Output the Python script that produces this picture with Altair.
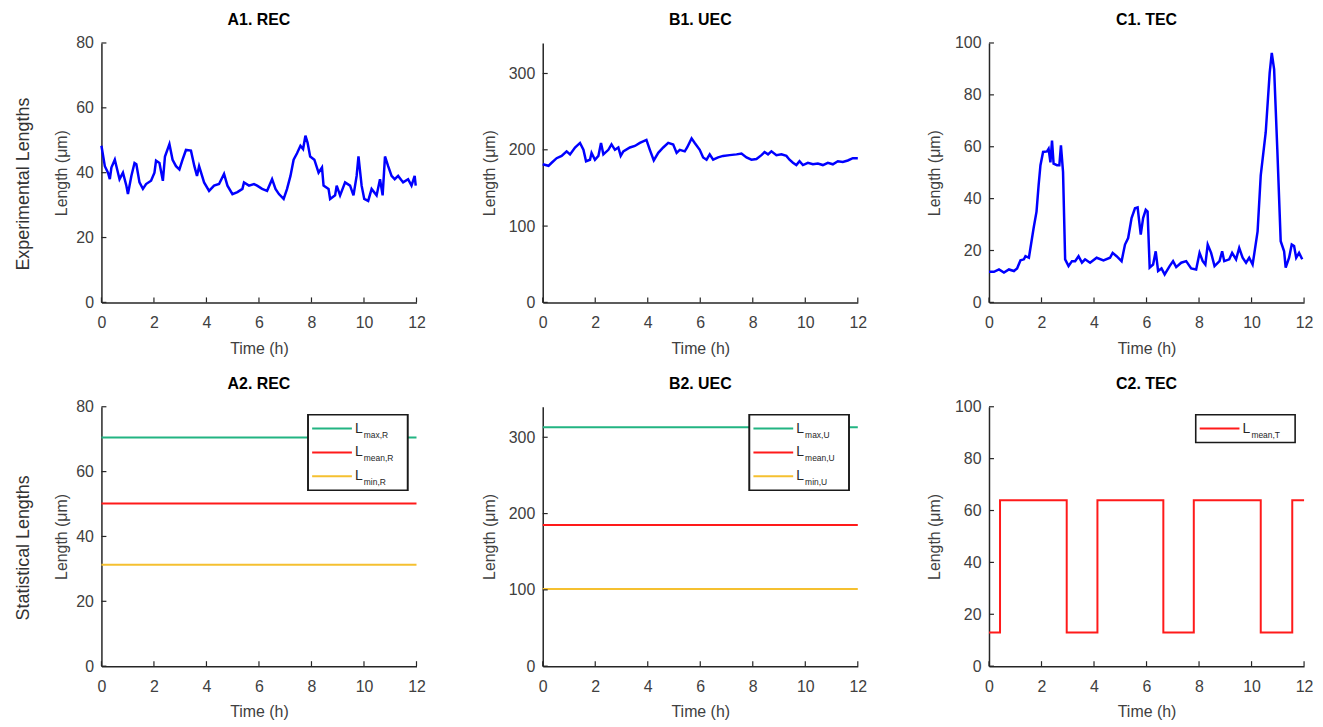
import altair as alt
import pandas as pd

# ---------------- data ----------------
rec_t = [0.0, 0.13, 0.25, 0.32, 0.38, 0.51, 0.57, 0.69, 0.82, 0.95, 1.01, 1.14, 1.26, 1.33, 1.45, 1.58, 1.70, 1.89,
         2.02, 2.08, 2.21, 2.34, 2.42, 2.59, 2.71, 2.84, 2.97, 3.09, 3.22, 3.41, 3.54, 3.64, 3.72, 3.91, 4.10, 4.29,
         4.48, 4.67, 4.80, 4.99, 5.18, 5.37, 5.43, 5.62, 5.81, 5.93, 6.12, 6.31, 6.50, 6.63, 6.76, 6.94, 7.07, 7.20,
         7.32, 7.45, 7.58, 7.68, 7.77, 7.85, 7.95, 8.11, 8.27, 8.40, 8.46, 8.65, 8.71, 8.90, 8.96, 9.09, 9.28, 9.47,
         9.60, 9.72, 9.79, 9.91, 10.01, 10.16, 10.29, 10.48, 10.61, 10.71, 10.80, 10.92, 11.05, 11.17, 11.30, 11.49,
         11.68, 11.81, 11.93, 11.97]
rec_L = [48.3, 42, 40, 38, 41.6, 44, 42, 38, 40, 36, 33.4, 39, 43, 42.6, 37, 35, 36.5, 37.5,
         40, 43.7, 43, 37.5, 45, 48.8, 44, 42, 41, 44, 47, 46.8, 42, 39, 42, 37, 34.4, 36,
         36.5, 39.6, 36, 33.4, 34, 35, 37, 36, 36.5, 36, 35, 34.4, 38, 35, 33.4, 31.9, 35, 39,
         44, 46, 48.3, 47.3, 51.4, 49.3, 45, 44, 40, 41.6, 36, 35, 31.9, 33, 36, 33, 37, 36,
         33, 39, 45, 36, 31.9, 31.3, 35, 33, 38, 33, 45, 42, 39, 38, 39, 37,
         38, 36, 39, 36]

uec_t = [0.0, 0.22, 0.34, 0.53, 0.72, 0.91, 1.04, 1.23, 1.42, 1.55, 1.65, 1.80, 1.86, 1.99, 2.12, 2.22, 2.31, 2.50,
         2.62, 2.75, 2.88, 2.97, 3.07, 3.32, 3.51, 3.70, 3.95, 4.08, 4.23, 4.40, 4.59, 4.78, 4.97, 5.10, 5.22, 5.41,
         5.50, 5.67, 5.79, 5.98, 6.11, 6.24, 6.36, 6.49, 6.68, 6.87, 7.12, 7.38, 7.57, 7.76, 7.95, 8.14, 8.33, 8.45,
         8.58, 8.71, 8.90, 9.09, 9.28, 9.40, 9.53, 9.66, 9.78, 9.91, 10.10, 10.29, 10.48, 10.67, 10.86, 11.05, 11.24,
         11.43, 11.62, 11.81, 12.0]
uec_L = [181, 179, 183, 189, 192, 198, 194, 203, 209, 200, 185, 187, 196, 187, 192, 209, 194, 200,
         207, 200, 203, 192, 198, 203, 205, 209, 213, 200, 186, 196, 203, 209, 207, 196, 200, 198,
         203, 215, 209, 200, 190, 187, 194, 187, 190, 192, 193, 194, 195, 190, 187, 188, 193, 197,
         194, 198, 193, 194, 192, 187, 183, 180, 185, 180, 183, 181, 182, 180, 183, 181, 185,
         184, 186, 189, 189]

tec_t = [0.0, 0.19, 0.38, 0.57, 0.76, 0.95, 1.07, 1.20, 1.33, 1.39, 1.52, 1.60, 1.70, 1.81, 1.89, 1.96, 2.06, 2.21,
         2.27, 2.34, 2.40, 2.46, 2.59, 2.68, 2.74, 2.82, 2.90, 3.03, 3.16, 3.28, 3.41, 3.54, 3.66, 3.85, 4.10, 4.36,
         4.61, 4.71, 4.86, 5.05, 5.18, 5.30, 5.43, 5.56, 5.66, 5.78, 5.87, 5.97, 6.04, 6.12, 6.25, 6.35, 6.44, 6.57,
         6.69, 6.88, 7.01, 7.13, 7.32, 7.51, 7.70, 7.89, 8.02, 8.14, 8.24, 8.33, 8.46, 8.59, 8.78, 8.88, 8.96, 9.15,
         9.26, 9.41, 9.53, 9.66, 9.79, 9.91, 10.04, 10.10, 10.23, 10.35, 10.54, 10.69, 10.77, 10.86, 10.98, 11.11,
         11.24, 11.30, 11.43, 11.53, 11.62, 11.70, 11.81, 11.93]
tec_L = [11.8, 11.8, 12.7, 11.5, 12.7, 12.1, 13.1, 16.2, 16.6, 17.8, 17.2, 22.3, 28.7, 35, 45.2, 52.9, 58, 58.2,
         59.2, 54, 62.4, 53.5, 52.9, 52.9, 60.5, 50.3, 16.6, 14, 15.9, 15.9, 17.8, 15.3, 16.6, 15.3, 17.2, 16.2,
         17.2, 19.1, 17.8, 15.9, 22.3, 24.8, 32.5, 36.3, 36.6, 26.1, 32.5, 35.7, 35, 13.4, 14.6, 19.7, 12.1, 13.1,
         10.8, 14, 15.9, 13.6, 15.3, 15.9, 13.1, 12.7, 19.1, 15.9, 14.6, 22.3, 19.1, 14, 15.9, 19.7, 15.9, 16.6,
         19.1, 16.6, 21, 17.2, 15.3, 17.2, 14.6, 18.5, 27.4, 49, 65.6, 88.5, 96.2, 89.8, 59.2, 23.6,
         19.7, 13.4, 17.2, 22.3, 21.7, 17.2, 19.1, 16.6]

# statistical lengths
stat_names_R = ["max,R", "mean,R", "min,R"]
stat_vals_R = [70.5, 50.2, 31.3]
stat_names_U = ["max,U", "mean,U", "min,U"]
stat_vals_U = [313, 185, 101]
wave_t = [0.0, 0.42, 2.96, 4.13, 6.64, 7.80, 10.35, 11.55, 12.0]
wave_L = [13, 64, 13, 64, 13, 64, 13, 64, 64]

titles = ["A1. REC", "B1. UEC", "C1. TEC", "A2. REC", "B2. UEC", "C2. TEC"]
row_labels = ["Experimental Lengths", "Statistical Lengths"]
x_ticks = [0, 2, 4, 6, 8, 10, 12]
y_ticks_A = [0, 20, 40, 60, 80]
y_ticks_B = [0, 100, 200, 300]
y_ticks_C = [0, 20, 40, 60, 80, 100]

# ---------------- style ----------------
W, H = 317, 261
FONT = "Liberation Sans"
AX = "#262626"
BLUE = "#0000FF"
GREEN = "#22B482"
RED = "#FF1A1A"
YELLOW = "#F5C030"


def xenc():
    return alt.X("t:Q", scale=alt.Scale(domain=[0, 12], nice=False),
                 axis=alt.Axis(values=x_ticks, title="Time (h)", grid=False, labelFlush=False))


def yenc(dmax, ticks, tp):
    return alt.Y("L:Q", scale=alt.Scale(domain=[0, dmax], nice=False),
                 axis=alt.Axis(values=ticks, title="Length (μm)", grid=False, titlePadding=tp,
                               labelFlush=False))


def frame_layers(title, dmax, yticks, tp):
    """inward ticks (drawn through the scales) and the panel title"""
    xt = alt.Chart(pd.DataFrame({"t": x_ticks})).mark_rule(color=AX, strokeWidth=1.2).encode(
        x=xenc(), y=alt.value(H), y2=alt.value(H - 5))
    yt = alt.Chart(pd.DataFrame({"L": yticks})).mark_rule(color=AX, strokeWidth=1.2).encode(
        y=yenc(dmax, yticks, tp), x=alt.value(0), x2=alt.value(5))
    tt = alt.Chart(pd.DataFrame({"title": [title]})).mark_text(
        font=FONT, fontSize=16, fontWeight="bold", color="black", baseline="middle", align="center"
    ).encode(text="title:N", x=alt.value(W / 2), y=alt.value(-23))
    return [xt, yt, tt]


def legend_layers(names, colors, box_h):
    ldf = pd.DataFrame({"name": names, "col": colors, "i": list(range(len(names)))})
    base = alt.Chart(ldf).transform_calculate(py="22 + datum.i * 24")
    box = alt.Chart(ldf).mark_rect(fill="white", stroke="#1a1a1a", strokeWidth=1.6).encode(
        x=alt.value(208), x2=alt.value(308), y=alt.value(8), y2=alt.value(8 + box_h))
    rules = base.mark_rule(strokeWidth=2).encode(
        x=alt.value(212), x2=alt.value(252), y=alt.Y("py:Q", scale=None),
        color=alt.Color("col:N", scale=None))
    bigL = base.mark_text(text="L", align="left", baseline="middle", fontSize=14,
                          font=FONT, color=AX).encode(
        x=alt.value(255), y=alt.Y("py:Q", scale=None))
    sub = base.transform_calculate(sy="datum.py + 6").mark_text(
        align="left", baseline="middle", fontSize=8.5, font=FONT, color=AX).encode(
        x=alt.value(264), y=alt.Y("sy:Q", scale=None), text="name:N")
    return [box, rules, bigL, sub]


def exp_panel(t, L, title, dmax, ticks, tp):
    df = pd.DataFrame({"t": t, "L": L})
    line = alt.Chart(df).mark_line(color=BLUE, strokeWidth=2.5).encode(
        x=xenc(), y=yenc(dmax, ticks, tp))
    return alt.layer(line, *frame_layers(title, dmax, ticks, tp)).properties(width=W, height=H)


def stat_panel(names, vals, colors, title, dmax, ticks, tp):
    rows = []
    for n, v in zip(names, vals):
        rows.append({"name": n, "t": 0, "L": v})
        rows.append({"name": n, "t": 12, "L": v})
    df = pd.DataFrame(rows)
    lines = alt.Chart(df).mark_line(strokeWidth=2).encode(
        x=xenc(), y=yenc(dmax, ticks, tp),
        color=alt.Color("name:N", scale=alt.Scale(domain=names, range=colors), legend=None),
        detail="name:N")
    return alt.layer(lines, *legend_layers(names, colors, 76),
                     *frame_layers(title, dmax, ticks, tp)).properties(width=W, height=H)


a1 = exp_panel(rec_t, rec_L, titles[0], 80, y_ticks_A, 6)
b1 = exp_panel(uec_t, uec_L, titles[1], 340, y_ticks_B, 11)
c1 = exp_panel(tec_t, tec_L, titles[2], 100, y_ticks_C, 12)

a2 = stat_panel(stat_names_R, stat_vals_R, [GREEN, RED, YELLOW], titles[3], 80, y_ticks_A, 6)
b2 = stat_panel(stat_names_U, stat_vals_U, [GREEN, RED, YELLOW], titles[4], 340, y_ticks_B, 11)

wdf = pd.DataFrame({"t": wave_t, "L": wave_L})
wave = alt.Chart(wdf).mark_line(color=RED, strokeWidth=2, interpolate="step-after").encode(
    x=xenc(), y=yenc(100, y_ticks_C, 12))
c2 = alt.layer(wave, *legend_layers(["mean,T"], [RED], 28),
               *frame_layers(titles[5], 100, y_ticks_C, 12)).properties(width=W, height=H)


def row_title(s):
    return alt.TitleParams(s, orient="left", anchor="middle", fontSize=18,
                           fontWeight="normal", font=FONT, color="#333333", offset=21)


row1 = alt.hconcat(alt.hconcat(a1, b1, spacing=56), c1, spacing=60, title=row_title(row_labels[0]))
row2 = alt.hconcat(alt.hconcat(a2, b2, spacing=56), c2, spacing=60, title=row_title(row_labels[1]))

chart = alt.vconcat(row1, row2, spacing=20).properties(
    padding={"left": 7, "top": 2, "right": 2, "bottom": 2}
).configure_view(stroke=None).configure_axis(
    domainColor=AX, domainWidth=1.5, ticks=False, tickSize=0,
    labelFont=FONT, labelFontSize=16, labelColor="#404040",
    titleFont=FONT, titleFontSize=16, titleFontWeight="normal", titleColor="#404040",
).configure_axisX(labelPadding=12, titlePadding=10).configure_axisY(labelPadding=8)

chart.save("out.html", embed_options={"renderer": "svg", "actions": False})
